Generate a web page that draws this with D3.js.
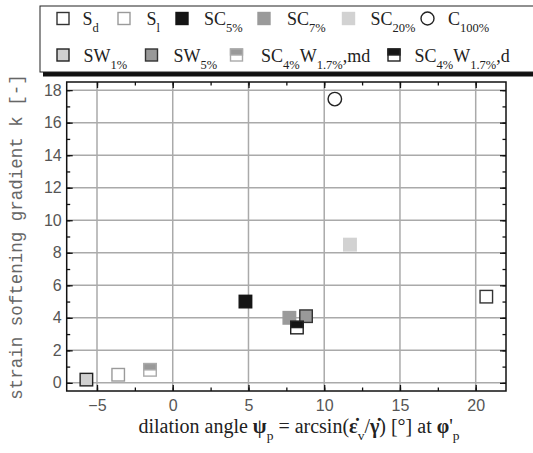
<!DOCTYPE html>
<html>
<head>
<meta charset="utf-8">
<script src="https://cdn.jsdelivr.net/npm/d3@7"></script>
<style>
  body { margin: 0; background: #fff; }
  svg { display: block; }
  .serif { font-family: "Liberation Serif", "DejaVu Serif", "Times New Roman", serif; }
  .sans { font-family: "Liberation Sans", "DejaVu Sans", Arial, sans-serif; }
  .mono { font-family: "Liberation Mono", "DejaVu Sans Mono", "Courier New", monospace; }
</style>
</head>
<body>
<div id="chart"></div>
<script>
// series keys, in legend order
const seriesKeys = ["Sd", "Sl", "SC5", "SC7", "SC20", "C100", "SW1", "SW5", "SC4W17md", "SC4W17d"];
// legend labels: [main, subscript] pieces
const seriesLabels = [
  [["S", "d"]],
  [["S", "l"]],
  [["SC", "5%"]],
  [["SC", "7%"]],
  [["SC", "20%"]],
  [["C", "100%"]],
  [["SW", "1%"]],
  [["SW", "5%"]],
  [["SC", "4%"], ["W", "1.7%"], [",md", ""]],
  [["SC", "4%"], ["W", "1.7%"], [",d", ""]]
];
// dilation angle psi_p [deg]
const dilationAngle = [20.7, -3.6, 4.8, 7.7, 11.7, 10.7, -5.7, 8.8, -1.5, 8.2];
// strain softening gradient k [-]
const softeningGradient = [5.3, 0.5, 5.0, 4.0, 8.5, 17.45, 0.2, 4.1, 0.8, 3.4];

const xTicks = [-5, 0, 5, 10, 15, 20];
const yTicks = [0, 2, 4, 6, 8, 10, 12, 14, 16, 18];

const markerStyle = {
  Sd:       { shape: "square", fill: "#fff", stroke: "#333" },
  Sl:       { shape: "square", fill: "#fff", stroke: "#9a9a9a" },
  SC5:      { shape: "square", fill: "#151515", stroke: "#151515" },
  SC7:      { shape: "square", fill: "#9a9a9a", stroke: "#9a9a9a" },
  SC20:     { shape: "square", fill: "#d2d2d2", stroke: "#d2d2d2" },
  C100:     { shape: "circle", fill: "none", stroke: "#222" },
  SW1:      { shape: "square", fill: "#d0d0d0", stroke: "#222" },
  SW5:      { shape: "square", fill: "#999", stroke: "#333" },
  SC4W17md: { shape: "half", top: "#999", fill: "#fff", stroke: "#aaa" },
  SC4W17d:  { shape: "half", top: "#151515", fill: "#fff", stroke: "#222" }
};

const width = 533, height = 453;
const margin = { left: 66.7, right: 27, top: 82, bottom: 62 };

const svg = d3.select("#chart").append("svg")
  .attr("width", width).attr("height", height);

const x = d3.scaleLinear().domain([-7, 22]).range([margin.left, width - margin.right]);
const y = d3.scaleLinear().domain([-0.5, 18.5]).range([height - margin.bottom, margin.top]);

const x0 = margin.left, x1 = width - margin.right;
const y0 = height - margin.bottom, y1 = margin.top;

// grid
svg.append("g").selectAll("line").data(xTicks).enter().append("line")
  .attr("x1", d => x(d)).attr("x2", d => x(d)).attr("y1", y0).attr("y2", y1)
  .attr("stroke", "#aaa").attr("stroke-width", 1.5);
svg.append("g").selectAll("line").data(yTicks).enter().append("line")
  .attr("y1", d => y(d)).attr("y2", d => y(d)).attr("x1", x0).attr("x2", x1)
  .attr("stroke", "#aaa").attr("stroke-width", 1.5);

// axes (ticks inward)
const xMinor = d3.range(-5, 22.1, 2.5);
const yMinor = d3.range(0, 18.1, 1);

function styleAxis(g) {
  g.select(".domain").remove();
  g.attr("font-family", null).attr("font-size", null);
  g.selectAll(".tick line").attr("stroke", "#111").attr("stroke-width", 1.3);
  g.selectAll(".tick text").attr("fill", "#555").attr("class", "sans").attr("font-size", 16);
}

svg.append("g").attr("transform", `translate(0,${y0})`)
  .call(d3.axisBottom(x).tickValues(xMinor).tickSize(-3.5).tickFormat("")).call(styleAxis);
svg.append("g").attr("transform", `translate(0,${y0})`)
  .call(d3.axisBottom(x).tickValues(xTicks).tickSize(-6).tickPadding(9).tickFormat(d3.format("d"))).call(styleAxis);
svg.append("g").attr("transform", `translate(0,${y1})`)
  .call(d3.axisTop(x).tickValues(xMinor).tickSize(-3.5).tickFormat("")).call(styleAxis);
svg.append("g").attr("transform", `translate(0,${y1})`)
  .call(d3.axisTop(x).tickValues(xTicks).tickSize(-6).tickFormat("")).call(styleAxis);

svg.append("g").attr("transform", `translate(${x0},0)`)
  .call(d3.axisLeft(y).tickValues(yMinor).tickSize(-3.5).tickFormat("")).call(styleAxis);
svg.append("g").attr("transform", `translate(${x0},0)`)
  .call(d3.axisLeft(y).tickValues(yTicks).tickSize(-6).tickPadding(5).tickFormat(d3.format("d"))).call(styleAxis);
svg.append("g").attr("transform", `translate(${x1},0)`)
  .call(d3.axisRight(y).tickValues(yMinor).tickSize(-3.5).tickFormat("")).call(styleAxis);
svg.append("g").attr("transform", `translate(${x1},0)`)
  .call(d3.axisRight(y).tickValues(yTicks).tickSize(-6).tickFormat("")).call(styleAxis);

// frame
svg.append("rect").attr("x", x0).attr("y", y1).attr("width", x1 - x0).attr("height", y0 - y1)
  .attr("fill", "none").attr("stroke", "#111").attr("stroke-width", 1.5);

// markers
function drawMarker(g, key, cx, cy, size) {
  const s = markerStyle[key];
  const h = size / 2;
  if (s.shape === "circle") {
    g.append("circle").attr("cx", cx).attr("cy", cy).attr("r", h + 0.5)
      .attr("fill", s.fill).attr("stroke", s.stroke).attr("stroke-width", 1.4);
    return;
  }
  g.append("rect").attr("x", cx - h).attr("y", cy - h).attr("width", size).attr("height", size)
    .attr("fill", s.fill).attr("stroke", s.stroke).attr("stroke-width", 1.4);
  if (s.shape === "half") {
    g.append("rect").attr("x", cx - h).attr("y", cy - h).attr("width", size).attr("height", size / 2)
      .attr("fill", s.top).attr("stroke", s.stroke).attr("stroke-width", 1.4);
  }
}

const points = svg.append("g");
seriesKeys.forEach((k, i) => {
  drawMarker(points, k, x(dilationAngle[i]), y(softeningGradient[i]), 12.5);
});

// legend
const legend = svg.append("g");
legend.append("rect").attr("x", 43).attr("y", 71.5).attr("width", 520).attr("height", 5).attr("fill", "#111");
legend.append("rect").attr("x", 40).attr("y", 6).attr("width", 520).attr("height", 66)
  .attr("fill", "#fff").attr("stroke", "#222").attr("stroke-width", 1);

const legendMarkerX = [63, 124, 182, 264, 348.5, 427.5, 63, 151.5, 236.5, 394];
const legendTextX = [82.5, 146.5, 204, 287, 370.5, 448, 83.5, 173.5, 261, 414.5];
const legendRowY = [18.5, 55];

seriesKeys.forEach((k, i) => {
  const row = i < 6 ? 0 : 1;
  const cy = legendRowY[row];
  drawMarker(legend, k, legendMarkerX[i], cy, 12);
  const t = legend.append("text").attr("class", "serif").attr("x", legendTextX[i]).attr("y", cy + 6.5)
    .attr("fill", "#222").attr("font-size", 18);
  let shifted = false;
  seriesLabels[i].forEach(([main, sub]) => {
    t.append("tspan").attr("dy", shifted ? -7 : 0).text(main);
    shifted = false;
    if (sub) {
      t.append("tspan").attr("dy", 7).attr("font-size", 12.5).text(sub);
      shifted = true;
    }
  });
});

// y axis title
svg.append("text").attr("class", "mono")
  .attr("transform", `translate(22,237) rotate(-90)`)
  .attr("text-anchor", "middle").attr("fill", "#666").attr("font-size", 17.5)
  .text("strain softening gradient k [-]");

// x axis title
const xt = svg.append("text").attr("class", "serif").attr("x", 299).attr("y", 433)
  .attr("text-anchor", "middle").attr("fill", "#222").attr("font-size", 20);
xt.append("tspan").text("dilation angle ");
xt.append("tspan").attr("font-weight", "bold").text("\u03c8");
xt.append("tspan").attr("dy", 7).attr("font-size", 13.5).text("p");
xt.append("tspan").attr("dy", -7).text(" = arcsin(");
xt.append("tspan").attr("font-weight", "bold").text("\u03b5\u0307");
xt.append("tspan").attr("dy", 7).attr("font-size", 13.5).text("v");
xt.append("tspan").attr("dy", -7).text("/");
xt.append("tspan").attr("font-weight", "bold").text("\u03b3\u0307");
xt.append("tspan").text(") [\u00b0] at ");
xt.append("tspan").attr("font-weight", "bold").text("\u03c6");
xt.append("tspan").text("'");
xt.append("tspan").attr("dy", 7).attr("font-size", 13.5).text("p");
</script>
</body>
</html>
